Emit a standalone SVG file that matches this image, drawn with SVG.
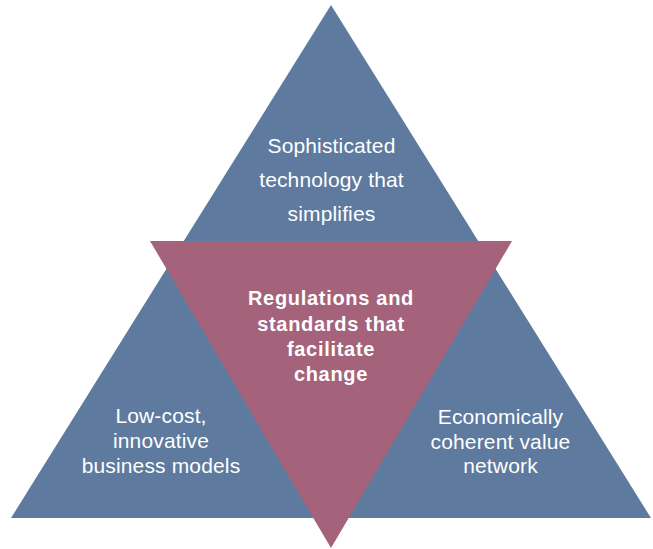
<svg xmlns="http://www.w3.org/2000/svg" width="653" height="549" viewBox="0 0 653 549">
<style>
.blue{fill:#5e7a9e}
.pink{fill:#a4637a}
text{font-family:"Liberation Sans",Arial,sans-serif;fill:#ffffff;text-anchor:middle}
.n{font-size:21px;letter-spacing:0.15px}
.b{font-size:20px;font-weight:bold;letter-spacing:0.7px}
</style>
<g id="outer-triangle">
<polygon class="blue" points="331,5 11,518 651,518"/>
</g>
<g id="top-node">
<text class="n" x="331.5" y="152.5">Sophisticated</text>
<text class="n" x="331.5" y="187">technology that</text>
<text class="n" x="331.5" y="221">simplifies</text>
</g>
<g id="left-node">
<text class="n" x="161" y="423">Low-cost,</text>
<text class="n" x="161" y="448">innovative</text>
<text class="n" x="161" y="473">business models</text>
</g>
<g id="right-node">
<text class="n" x="500.5" y="424">Economically</text>
<text class="n" x="500.5" y="448.5">coherent value</text>
<text class="n" x="500.5" y="473">network</text>
</g>
<g id="center-node">
<polygon class="pink" points="150,241 512,241 331,548"/>
<text class="b" x="331" y="305">Regulations and</text>
<text class="b" x="331" y="330.5">standards that</text>
<text class="b" x="331" y="356">facilitate</text>
<text class="b" x="331" y="381">change</text>
</g>
<g id="connectors"></g>
</svg>
